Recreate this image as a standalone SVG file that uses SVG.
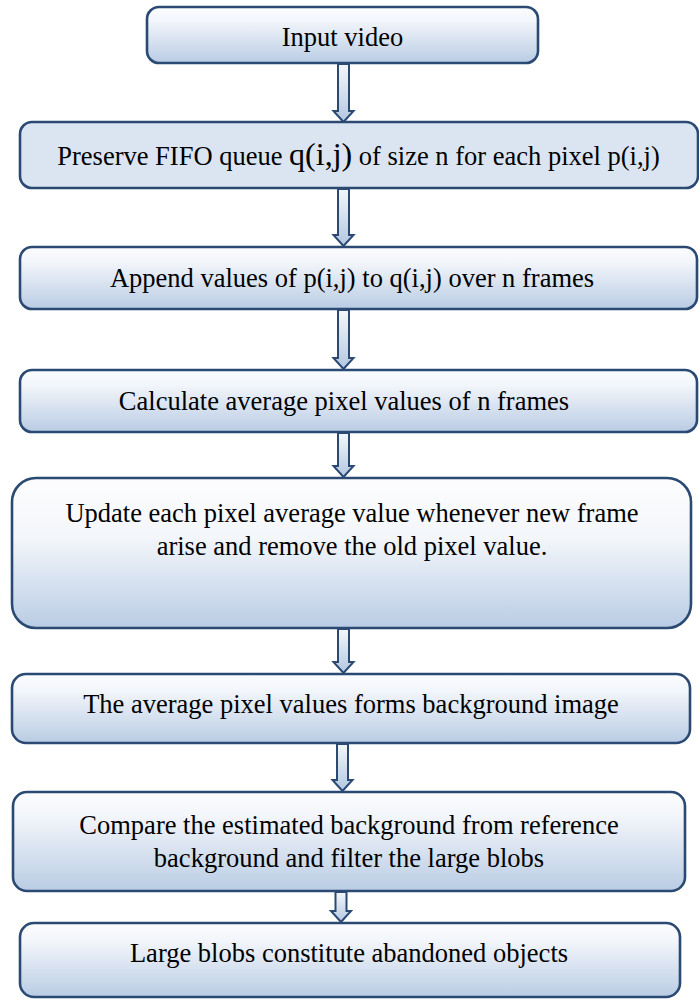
<svg xmlns="http://www.w3.org/2000/svg" width="699" height="999" viewBox="0 0 699 999">
  <defs>
    <linearGradient id="boxFill" x1="0" y1="0" x2="0" y2="1">
      <stop offset="0" stop-color="#fbfcfe"/>
      <stop offset="0.25" stop-color="#f2f5fa"/>
      <stop offset="1" stop-color="#b9cce4"/>
    </linearGradient>
    <linearGradient id="tallFill" x1="0" y1="0" x2="0" y2="1">
      <stop offset="0" stop-color="#fdfdfe"/>
      <stop offset="0.4" stop-color="#f3f6fa"/>
      <stop offset="1" stop-color="#b9cce4"/>
    </linearGradient>
    <linearGradient id="arrowFill" x1="0" y1="0" x2="0" y2="1">
      <stop offset="0" stop-color="#f4f7fb"/>
      <stop offset="1" stop-color="#b3c7e1"/>
    </linearGradient>
    <style>
      .box { stroke: #2b4a73; stroke-width: 2.6; fill: url(#boxFill); }
      .flat { fill: #dbe5f1; }
      .tall { fill: url(#tallFill); }
      .arrow { stroke: #2b4a73; stroke-width: 2; fill: url(#arrowFill); stroke-linejoin: miter; }
      .label { font-family: "Liberation Serif", "Times New Roman", serif; font-size: 26.5px; fill: #000; text-anchor: middle; }
      .big { font-size: 32px; }
    </style>
  </defs>

  <!-- connectors: hollow block arrows between steps -->
  <g id="connectors">
    <polygon class="arrow" points="338,64 349,64 349,111 353.5,111 343.5,122 333.5,111 338,111"/>
    <polygon class="arrow" points="338,189 349,189 349,235 353.5,235 343.5,246 333.5,235 338,235"/>
    <polygon class="arrow" points="338,310 349,310 349,358 353.5,358 343.5,369 333.5,358 338,358"/>
    <polygon class="arrow" points="338,433 349,433 349,466 353.5,466 343.5,477 333.5,466 338,466"/>
    <polygon class="arrow" points="338,629 349,629 349,662 353.5,662 343.5,673 333.5,662 338,662"/>
    <polygon class="arrow" points="337,744 348,744 348,780 352.5,780 342.5,791 332.5,780 337,780"/>
    <polygon class="arrow" points="335.5,892 346.5,892 346.5,911 351,911 341,922 331,911 335.5,911"/>
  </g>

  <g id="input-video">
    <rect class="box" x="147" y="7" width="391" height="56" rx="12"/>
    <text class="label" x="342.5" y="46">Input video</text>
  </g>

  <g id="preserve-queue">
    <rect class="box flat" x="20" y="122" width="678" height="66" rx="12"/>
    <text class="label" x="358.5" y="165">Preserve FIFO queue <tspan class="big">q(i,j)</tspan> of size n for each pixel p(i,j)</text>
  </g>

  <g id="append-values">
    <rect class="box" x="20" y="247" width="677" height="62" rx="12"/>
    <text class="label" x="352" y="287">Append values of p(i,j) to q(i,j) over n frames</text>
  </g>

  <g id="calculate-average">
    <rect class="box" x="20" y="370" width="677" height="62" rx="12"/>
    <text class="label" x="344" y="410">Calculate average pixel values of n frames</text>
  </g>

  <g id="update-average">
    <rect class="box tall" x="12" y="478" width="679" height="150" rx="24"/>
    <text class="label" x="352" y="522">Update each pixel average value whenever new frame</text>
    <text class="label" x="352" y="555">arise and remove the old pixel value.</text>
  </g>

  <g id="background-image">
    <rect class="box" x="12" y="674" width="678" height="69" rx="14"/>
    <text class="label" x="351" y="713">The average pixel values forms background image</text>
  </g>

  <g id="compare-background">
    <rect class="box" x="13" y="792" width="672" height="99" rx="14"/>
    <text class="label" x="349" y="834">Compare the estimated background from reference</text>
    <text class="label" x="349" y="867">background and filter the large blobs</text>
  </g>

  <g id="abandoned-objects">
    <rect class="box" x="20" y="923" width="660" height="74" rx="14"/>
    <text class="label" x="349" y="962">Large blobs constitute abandoned objects</text>
  </g>
</svg>
